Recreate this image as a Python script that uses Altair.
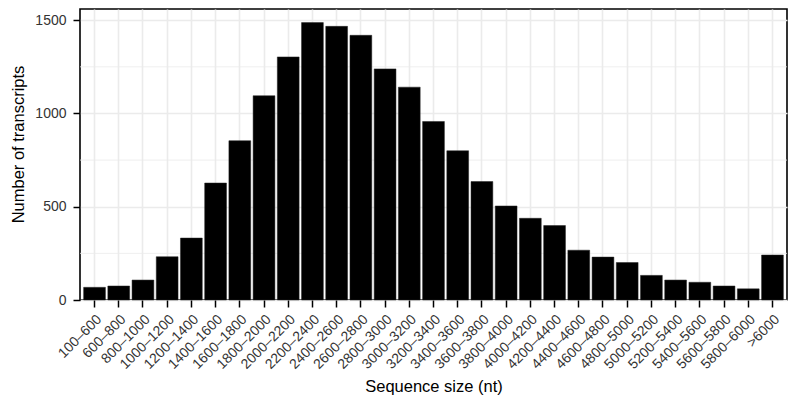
import altair as alt
import pandas as pd

categories = ["100–600", "600–800", "800–1000", "1000–1200", "1200–1400", "1400–1600",
              "1600–1800", "1800–2000", "2000–2200", "2200–2400", "2400–2600", "2600–2800",
              "2800–3000", "3000–3200", "3200–3400", "3400–3600", "3600–3800", "3800–4000",
              "4000–4200", "4200–4400", "4400–4600", "4600–4800", "4800–5000", "5000–5200",
              "5200–5400", "5400–5600", "5600–5800", "5800–6000", ">6000"]
counts = [68, 75, 107, 232, 332, 627, 854, 1095, 1303, 1487, 1467, 1419, 1239, 1141, 957,
          800, 635, 504, 438, 399, 267, 230, 201, 132, 107, 95, 75, 60, 241]
y_ticks = [0, 500, 1000, 1500]
y_minor = [250, 750, 1250]

df = pd.DataFrame({"size": categories, "count": counts})
minor_df = pd.DataFrame({"v": y_minor})

FONT = "Liberation Sans"
LABEL_COLOR = "#333333"

y_scale = alt.Scale(domain=[0, 1560], nice=False, zero=True)

minor = alt.Chart(minor_df).mark_rule(color="#EBEBEB", strokeWidth=0.8).encode(
    y=alt.Y("v:Q", scale=y_scale)
)

bars = alt.Chart(df).mark_bar(color="black", stroke="#222222", strokeWidth=0.5).encode(
    x=alt.X(
        "size:N",
        sort=categories,
        title="Sequence size (nt)",
        scale=alt.Scale(paddingInner=0.1, paddingOuter=0.15),
        axis=alt.Axis(
            labelAngle=-45, labelAlign="right", labelBaseline="top",
            labelFontSize=14, labelColor=LABEL_COLOR, labelFont=FONT, labelPadding=5,
            grid=True, gridColor="#EBEBEB", gridWidth=1.6, bandPosition=0.5,
            ticks=True, tickSize=7, tickColor="black", tickWidth=1.5,
            domain=False,
            titleFontSize=16.5, titleFont=FONT, titleFontWeight="normal", titleColor="black",
            titleX=353.5, titleY=91, titleBaseline="alphabetic", titleAlign="center",
        ),
    ),
    y=alt.Y(
        "count:Q",
        scale=y_scale,
        title="Number of transcripts",
        axis=alt.Axis(
            values=y_ticks, format="d",
            labelFontSize=14, labelColor=LABEL_COLOR, labelFont=FONT, labelPadding=7,
            grid=True, gridColor="#EBEBEB", gridWidth=1.6,
            ticks=True, tickSize=7, tickColor="black", tickWidth=1.5,
            domain=False,
            titleFontSize=16.5, titleFont=FONT, titleFontWeight="normal", titleColor="black",
            titleAngle=-90, titleX=-62, titleY=135, titleAlign="center", titleBaseline="middle",
        ),
    ),
)

chart = alt.layer(minor, bars).properties(
    width=707,
    height=291,
    background="white",
    autosize=alt.AutoSizeParams(type="none"),
    padding={"left": 72, "top": 1, "right": 1, "bottom": 96},
).configure_view(
    stroke="black", strokeWidth=1.6
)

chart.save("out.html", embed_options={"renderer": "svg", "actions": False})
